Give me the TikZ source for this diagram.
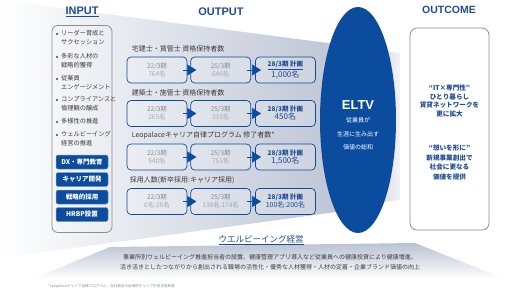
\documentclass[tikz,border=0pt]{standalone}
\usepackage{fontspec}
\setmainfont{Noto Sans CJK JP}
\newfontfamily\hdfont{Liberation Sans}
\usetikzlibrary{positioning,shapes.geometric,arrows.meta}
\definecolor{rblue}{HTML}{0B4C9E}
\definecolor{rtext}{HTML}{1F4C96}
\definecolor{rgrey}{HTML}{848C97}
\definecolor{rlight}{HTML}{A2AAB4}
\definecolor{rframe}{HTML}{8C918A}
\definecolor{rfunnel}{HTML}{BAC2D2}
\definecolor{rdark}{HTML}{3C3C3C}
\newcommand{\fsz}[2]{\fontsize{#1}{#2}\selectfont}

\begin{document}
\begin{tikzpicture}[x=1pt, y=-1pt, font=\fsz{6.5}{8},
  outbox/.style={draw=rblue, line width=0.7pt, rounded corners=4pt,
    fill=white, fill opacity=0.2, text opacity=1, align=center,
    minimum width=60pt, minimum height=26pt, inner sep=0pt},
  stepbtn/.style={fill=rblue, draw=rblue!55, line width=0.5pt, rounded corners=2pt,
    text=white, font=\fsz{6.5}{8}\bfseries, minimum width=52pt, minimum height=14pt, inner sep=0pt},
  rowlabel/.style={anchor=south west, text=rdark, font=\fsz{7}{8}, inner sep=0pt},
  flowtip/.style={-{Triangle[length=9pt,width=11pt]}, rblue, line width=0.6pt}]
  % page: 510 x 293, y grows downwards
  \useasboundingbox (0,0) rectangle (510,293);

  % funnel behind everything
  \shade[left color=white, right color=rfunnel]
     (0,0) -- (358,47) -- (358,209) -- (0,258) -- cycle;
  \shade[left color=rfunnel, right color=rfunnel!20]
     (358,47) -- (400,53) -- (400,200) -- (358,205) -- cycle;
  % base of the funnel
  \shade[top color=rfunnel, bottom color=white]
     (110,247) -- (415,243) -- (505,279) -- (32,279) -- cycle;

  % column heads
  \node[text=rtext, font=\hdfont\fsz{11}{12}\bfseries] (hin) at (82,12) {\underline{INPUT}};
  \node[text=rtext, font=\hdfont\fsz{11}{12}\bfseries] (hout) at (221,12) {OUTPUT};
  \node[text=rtext, font=\hdfont\fsz{10.5}{12}\bfseries] (hcome) at (449,10) {OUTCOME};

  % input column
  \node[draw=rframe, line width=0.8pt, rounded corners=6pt,
        minimum width=60pt, minimum height=207pt] (inbox) at (82,129) {};
  \node[anchor=north west, align=left, text=rdark, inner sep=0pt, font=\fsz{6.2}{9}] (in1) at (61,30) {リーダー育成と\\サクセッション};
  \node[anchor=north west, align=left, text=rdark, inner sep=0pt, font=\fsz{6.2}{9}] (in2) at (61,53) {多彩な人材の\\戦略的獲得};
  \node[anchor=north west, align=left, text=rdark, inner sep=0pt, font=\fsz{6.2}{9}] (in3) at (61,75) {従業員\\エンゲージメント};
  \node[anchor=north west, align=left, text=rdark, inner sep=0pt, font=\fsz{6.2}{9}] (in4) at (61,96) {コンプライアンスと\\倫理観の醸成};
  \node[anchor=north west, align=left, text=rdark, inner sep=0pt, font=\fsz{6.2}{9}] (in5) at (61,118) {多様性の推進};
  \node[anchor=north west, align=left, text=rdark, inner sep=0pt, font=\fsz{6.2}{9}] (in6) at (61,131) {ウェルビーイング\\経営の推進};
  \fill[rblue] (57,34) circle (1.2pt) (57,57) circle (1.2pt) (57,79) circle (1.2pt)
               (57,100) circle (1.2pt) (57,122) circle (1.2pt) (57,135) circle (1.2pt);
  \node[stepbtn] (dx) at (82,162) {DX・専門教育};
  \node[stepbtn] (career) at (82,179.5) {キャリア開発};
  \node[stepbtn] (hire) at (82,197) {戦略的採用};
  \node[stepbtn] (hrbp) at (82,214.5) {HRBP設置};

  % output rows
  \node[outbox] (a1) at (157,70) {{\color{rgrey}22/3期}\\{\color{rlight}764名}};
  \node[outbox, right=3pt of a1] (a2) {{\color{rgrey}25/3期}\\{\color{rlight}646名}};
  \node[outbox, right=4pt of a2] (a3) {{\color{rtext}\bfseries\underline{28/3期 計画}}\\{\color{rtext}\fsz{8}{9}1,000名}};
  \node[rowlabel] (la) at ([xshift=5pt,yshift=4pt]a1.north west) {宅建士・賃管士\ 資格保持者数};

  \node[outbox] (b1) at (157,113.5) {{\color{rgrey}22/3期}\\{\color{rlight}265名}};
  \node[outbox, right=3pt of b1] (b2) {{\color{rgrey}25/3期}\\{\color{rlight}333名}};
  \node[outbox, right=4pt of b2] (b3) {{\color{rtext}\bfseries 28/3期 計画}\\{\color{rtext}\fsz{8}{9}450名}};
  \node[rowlabel] (lb) at ([xshift=5pt,yshift=4pt]b1.north west) {建築士・施管士\ 資格保持者数};

  \node[outbox] (c1) at (157,157) {{\color{rgrey}22/3期}\\{\color{rlight}540名}};
  \node[outbox, right=3pt of c1] (c2) {{\color{rgrey}25/3期}\\{\color{rlight}751名}};
  \node[outbox, right=4pt of c2] (c3) {{\color{rtext}\bfseries 28/3期 計画}\\{\color{rtext}\fsz{8}{9}1,500名}};
  \node[rowlabel] (lc) at ([xshift=5pt,yshift=4pt]c1.north west) {Leopalaceキャリア自律プログラム\ 修了者数*};

  \node[outbox] (d1) at (157,201.5) {{\color{rgrey}22/3期}\\{\color{rlight}0名:28名}};
  \node[outbox, right=3pt of d1] (d2) {{\color{rgrey}25/3期}\\{\color{rlight}138名:174名}};
  \node[outbox, right=4pt of d2] (d3) {{\color{rtext}\bfseries 28/3期 計画}\\{\color{rtext}\fsz{7}{9}100名:200名}};
  \node[rowlabel] (ld) at ([xshift=3pt,yshift=4pt]d1.north west) {採用人数(新卒採用:キャリア採用)};

  % step arrows
  \draw[flowtip] ([xshift=-4pt]a1.east) -- ([xshift=6pt]a2.west);
  \draw[flowtip] ([xshift=-4pt]a2.east) -- ([xshift=6pt]a3.west);
  \draw[flowtip] ([xshift=-4pt]b1.east) -- ([xshift=6pt]b2.west);
  \draw[flowtip] ([xshift=-4pt]b2.east) -- ([xshift=6pt]b3.west);
  \draw[flowtip] ([xshift=-4pt]c1.east) -- ([xshift=6pt]c2.west);
  \draw[flowtip] ([xshift=-4pt]c2.east) -- ([xshift=6pt]c3.west);
  \draw[flowtip] ([xshift=-4pt]d1.east) -- ([xshift=6pt]d2.west);
  \draw[flowtip] ([xshift=-4pt]d2.east) -- ([xshift=6pt]d3.west);

  % ELTV
  \node[ellipse, fill=rblue, minimum width=76pt, minimum height=226pt, inner sep=0pt] (eltv) at (358,120) {};
  \node[text=white, font=\hdfont\fsz{13}{14}\bfseries] (eltvname) at (358,105) {ELTV};
  \node[text=white, align=center, font=\fsz{6}{13.5}] (eltvtext) at (358,134) {従業員が\\生涯に生み出す\\価値の総和};

  % outcome column
  \node[draw=rframe, fill=white, line width=0.8pt, rounded corners=7pt,
        minimum width=79pt, minimum height=202pt] (outbox) at (449.5,129) {};
  \node[text=rtext, align=center, font=\fsz{6.6}{8.8}\bfseries] (oc1) at (449.5,101) {“IT×専門性”\\ひとり暮らし\\賃貸ネットワークを\\更に拡大};
  \node[text=rtext, align=center, font=\fsz{6.6}{9.6}\bfseries] (oc2) at (449.5,162.5) {“想いを形に”\\新規事業創出で\\社会に更なる\\価値を提供};

  % well-being base
  \node[text=rtext, font=\fsz{8.5}{10}] (wb) at (261,240) {\underline{ウエルビーイング経営}};
  \node[text=rdark, align=center, font=\fsz{6}{10}] (wbtext) at (270,262) {事業所別ウェルビーイング推進担当者の設置、健康管理アプリ導入など従業員への健康投資により健康増進、\\活き活きとしたつながりから創出される職場の活性化・優秀な人材獲得・人材の定着・企業ブランド価値の向上};

  % footnote
  \node[text=rgrey, anchor=west, font=\fsz{3.6}{4}] (note) at (44,286) {* Leopalaceキャリア自律プログラム：当社独自の自律的キャリア形成支援制度};
\end{tikzpicture}
\end{document}
